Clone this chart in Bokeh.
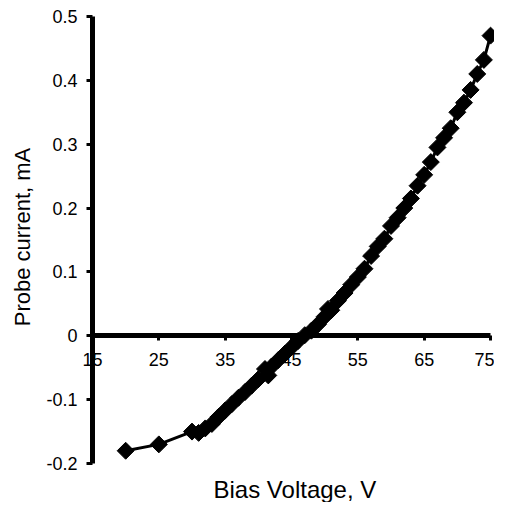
import math
from bokeh.plotting import figure
from bokeh.models import Range1d, FixedTicker, LinearAxis, Title
from bokeh.embed import file_html
from bokeh.resources import INLINE

bias_voltage = [20, 25, 30, 31, 32, 33, 34, 35, 36, 37, 38, 39, 40, 41, 41.5, 42, 43, 44, 45,
                46, 47, 48, 49, 50, 50.5, 51, 52, 53, 54, 55, 56, 57, 58, 59, 60, 61, 62,
                63, 64, 65, 66, 67, 68, 69, 70, 71, 72, 73, 74, 75]
probe_current = [-0.18, -0.17, -0.15, -0.152, -0.145, -0.138, -0.127, -0.117, -0.107, -0.097,
                 -0.088, -0.078, -0.068, -0.052, -0.062, -0.048, -0.038, -0.028, -0.018,
                 -0.008, 0.001, 0.008, 0.018, 0.03, 0.042, 0.04, 0.055, 0.067, 0.08, 0.092,
                 0.105, 0.125, 0.14, 0.152, 0.172, 0.185, 0.2, 0.215, 0.235, 0.252, 0.272,
                 0.295, 0.31, 0.325, 0.35, 0.365, 0.385, 0.41, 0.432, 0.47]
x_ticks = [15, 25, 35, 45, 55, 65, 75]
y_ticks = [-0.2, -0.1, 0, 0.1, 0.2, 0.3, 0.4, 0.5]
y_tick_labels = {-0.2: "-0.2", -0.1: "-0.1", 0: "0", 0.1: "0.1", 0.2: "0.2",
                 0.3: "0.3", 0.4: "0.4", 0.5: "0.5"}
x_title = "Bias Voltage, V"
y_title = "Probe current, mA"

FONT = "Liberation Sans"

p = figure(width=494, height=502, output_backend="svg", toolbar_location=None,
           x_range=Range1d(6.86, 75.6), y_range=Range1d(-0.2156, 0.525),
           x_axis_location=None,
           min_border_left=38, min_border_right=0, min_border_top=0, min_border_bottom=28)
p.outline_line_color = None
p.grid.visible = False
p.background_fill_color = "white"
p.border_fill_color = "white"

# x title below the plot, placed like the reference
p.add_layout(Title(text=x_title, align="left", offset=175, standoff=0,
                   text_font=FONT, text_font_size="24px", text_font_style="normal",
                   text_color="black"), "below")

# title-only y axis on the outside
lx = p.yaxis[0]
lx.ticker = FixedTicker(ticks=[])
lx.axis_line_color = None
lx.major_tick_line_color = None
lx.minor_tick_line_color = None
lx.axis_label = y_title
lx.axis_label_text_font = FONT
lx.axis_label_text_font_style = "normal"
lx.axis_label_text_color = "black"
lx.axis_label_text_font_size = "22px"
lx.axis_label_standoff = 4


def style_axis(ax):
    ax.axis_line_width = 5
    ax.axis_line_color = "black"
    ax.major_tick_line_width = 3
    ax.major_tick_line_color = "black"
    ax.major_tick_in = 0
    ax.minor_tick_line_color = None
    ax.major_label_text_font = FONT
    ax.major_label_text_font_size = "18px"
    ax.major_label_text_color = "black"


# x axis crossing at y = 0
xa = LinearAxis(fixed_location=0, bounds=(15, 75), ticker=FixedTicker(ticks=x_ticks))
style_axis(xa)
xa.major_tick_out = 5
xa.major_label_standoff = 12
p.add_layout(xa, "below")

# y axis crossing at x = 15
ya = LinearAxis(fixed_location=15, bounds=(-0.2, 0.5), ticker=FixedTicker(ticks=y_ticks))
style_axis(ya)
ya.major_label_overrides = y_tick_labels
ya.major_tick_out = 6
ya.major_label_standoff = 9
p.add_layout(ya, "left")

p.line(bias_voltage, probe_current, line_color="black", line_width=3)
p.scatter(bias_voltage, probe_current, marker="square", angle=math.pi / 4, size=12,
          fill_color="black", line_color="black")

open("out.html", "w").write(file_html(p, INLINE))
